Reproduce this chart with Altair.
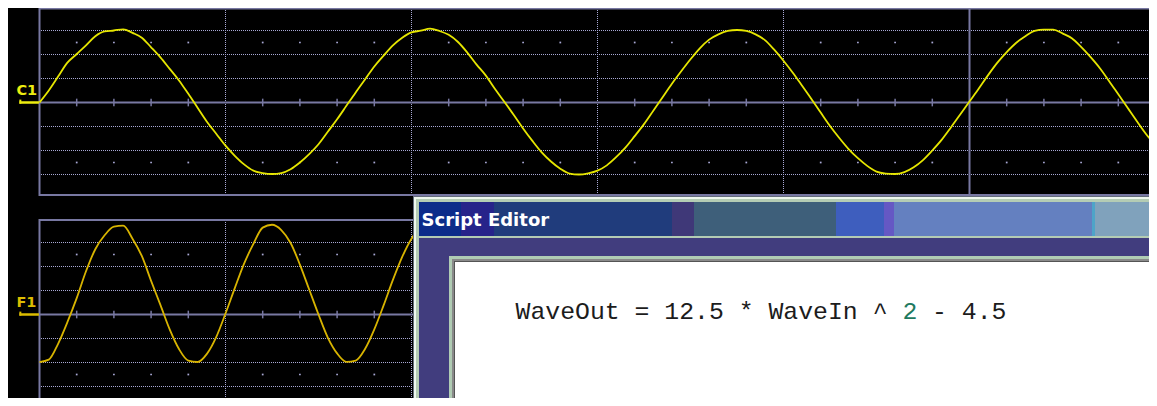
import altair as alt
import pandas as pd

W, H = 1141, 390

# time axis in scope divisions (one sample every 0.05 div)
t = [0.00, 0.05, 0.10, 0.15, 0.20, 0.25, 0.30, 0.35, 0.40, 0.45,
     0.50, 0.55, 0.60, 0.65, 0.70, 0.75, 0.80, 0.85, 0.90, 0.95,
     1.00, 1.05, 1.10, 1.15, 1.20, 1.25, 1.30, 1.35, 1.40, 1.45,
     1.50, 1.55, 1.60, 1.65, 1.70, 1.75, 1.80, 1.85, 1.90, 1.95,
     2.00, 2.05, 2.10, 2.15, 2.20, 2.25, 2.30, 2.35, 2.40, 2.45,
     2.50, 2.55, 2.60, 2.65, 2.70, 2.75, 2.80, 2.85, 2.90, 2.95,
     3.00, 3.05, 3.10, 3.15, 3.20, 3.25, 3.30, 3.35, 3.40, 3.45,
     3.50, 3.55, 3.60, 3.65, 3.70, 3.75, 3.80, 3.85, 3.90, 3.95,
     4.00, 4.05, 4.10, 4.15, 4.20, 4.25, 4.30, 4.35, 4.40, 4.45,
     4.50, 4.55, 4.60, 4.65, 4.70, 4.75, 4.80, 4.85, 4.90, 4.95,
     5.00, 5.05, 5.10, 5.15, 5.20, 5.25, 5.30, 5.35, 5.40, 5.45,
     5.50, 5.55, 5.60, 5.65, 5.70, 5.75, 5.80, 5.85, 5.90, 5.95,
     6.00]

# C1 trace (divisions)
c1 = [0.00, 0.50, 1.08, 1.66, 2.02, 2.38, 2.76, 2.96, 3.00, 3.05,
      2.90, 2.70, 2.30, 1.88, 1.40, 0.92, 0.36, -0.22, -0.80, -1.30,
      -1.80, -2.22, -2.58, -2.84, -2.94, -2.98, -2.94, -2.78, -2.50, -2.15,
      -1.74, -1.22, -0.70, -0.14, 0.42, 0.96, 1.50, 1.95, 2.38, 2.70,
      2.92, 2.99, 3.08, 2.98, 2.82, 2.52, 2.08, 1.58, 1.12, 0.55,
      0.02, -0.52, -1.08, -1.60, -2.08, -2.46, -2.76, -2.96, -3.00, -2.95,
      -2.84, -2.62, -2.28, -1.88, -1.40, -0.90, -0.34, 0.22, 0.78, 1.30,
      1.80, 2.26, 2.62, 2.84, 2.98, 3.02, 2.98, 2.84, 2.60, 2.20,
      1.74, 1.24, 0.70, 0.15, -0.42, -0.98, -1.48, -1.94, -2.32, -2.64,
      -2.88, -2.96, -2.98, -2.90, -2.70, -2.40, -2.00, -1.56, -1.04, -0.50,
      0.04, 0.58, 1.14, 1.66, 2.10, 2.48, 2.76, 2.98, 3.04, 3.04,
      2.88, 2.68, 2.32, 1.90, 1.44, 0.90, 0.34, -0.22, -0.78, -1.32,
      -1.78]

# F1 trace (divisions), visible part left of the editor window
f1 = [-1.98, -1.88, -1.22, -0.32, 0.68, 1.80, 2.72, 3.30, 3.66, 3.70,
      3.16, 2.44, 1.40, 0.40, -0.62, -1.44, -1.92, -1.98, -1.64, -0.94,
      0.04, 1.10, 2.12, 2.94, 3.62, 3.74, 3.52, 2.98, 2.08, 1.04,
      0.00, -0.96, -1.62, -1.97, -1.92, -1.44, -0.62, 0.38, 1.44, 2.40,
      3.16, 3.62, 3.72]

grid_levels = [-3, -2, -1, 1, 2, 3]
div_lines = [1, 2, 3, 4, 6, 7, 8, 9]
center_x = [5]
center_y = [0]
minor_ticks = [0.2, 0.4, 0.6, 0.8, 1.2, 1.4, 1.6, 1.8, 2.2, 2.4, 2.6, 2.8,
               3.2, 3.4, 3.6, 3.8, 4.2, 4.4, 4.6, 4.8, 5.2, 5.4, 5.6, 5.8]
dot_rows = [-2.5, 2.5]

# editor window pieces (screen pixels)
ed_x0 = [413, 414, 416, 419, 461, 494, 672, 694, 836, 884, 894, 1092, 1095, 419, 449, 452, 454, 455]
ed_x1 = [1170, 1170, 1170, 461, 494, 672, 694, 836, 884, 894, 1092, 1095, 1170,
         1170, 1170, 1170, 1170, 1170]
ed_y0 = [196, 197, 199, 202, 202, 202, 202, 202, 202, 202, 202, 202, 202, 238, 256, 259, 261, 262]
ed_y1 = [420, 420, 420, 236, 236, 236, 236, 236, 236, 236, 236, 236, 236, 420, 420, 420, 420, 420]
ed_col = ["#646c7c", "#eef8ee", "#b4ccb4",
          "#0c2c8a", "#27238a", "#203c7c", "#3f3878", "#3e5f7a", "#3e5ebe", "#6558c4",
          "#6480c0", "#4ea4c8", "#80a2bc",
          "#413d7e", "#b0ccb4", "#8a8a8a", "#555555", "#ffffff"]

title_text = ["Script Editor"]
code_parts = ["WaveOut = 12.5 * WaveIn ^", "2", "- 4.5"]
code_cols = ["#1c1c1c", "#1f7a5f", "#1c1c1c"]
code_x = [515.5, 902.4, 932.1]

PXD = 186.0   # pixels per horizontal division
PYD = 24.0    # pixels per vertical division
UP_C = 94.5   # chart-pixel row of the C1 zero line
LO_C = 306.5  # chart-pixel row of the F1 zero line
X_DOM = [-31.5 / PXD, (W - 31.5) / PXD]
UP_DOM = [(UP_C - H) / PYD, UP_C / PYD]
LO_DOM = [(LO_C - H) / PYD, LO_C / PYD]

FRAME = "#7878a2"
DOT = "#a8a8d4"


def xs():
    return alt.Scale(domain=X_DOM, nice=False, zero=False)


def ysc(d):
    return alt.Scale(domain=d, nice=False, zero=False)


def panel(ydom, ybot, ytop, vals, trace_color, label, label_color, label_y):
    L = []
    L.append(alt.Chart(pd.DataFrame({"lvl": grid_levels})).mark_rule(
        color=DOT, strokeWidth=1, strokeDash=[1, 1], strokeDashOffset=0.5,
        strokeCap="butt", clip=True).encode(
        x=alt.X(datum=0, type="quantitative", scale=xs(), axis=None),
        x2=alt.X2(datum=10),
        y=alt.Y("lvl:Q", scale=ysc(ydom), axis=None)))
    L.append(alt.Chart(pd.DataFrame({"d": div_lines})).mark_rule(
        color=DOT, strokeWidth=1, strokeDash=[1, 1], strokeCap="butt", clip=True).encode(
        x=alt.X("d:Q", scale=xs(), axis=None),
        y=alt.Y(datum=ybot, type="quantitative", scale=ysc(ydom), axis=None),
        y2=alt.Y2(datum=ytop)))
    dots = pd.DataFrame([{"x": m, "y": r} for m in minor_ticks for r in dot_rows])
    L.append(alt.Chart(dots).mark_square(color=DOT, size=3, opacity=1, clip=True).encode(
        x=alt.X("x:Q", scale=xs(), axis=None),
        y=alt.Y("y:Q", scale=ysc(ydom), axis=None)))
    L.append(alt.Chart(pd.DataFrame({"c": center_y})).mark_rect(
        fill="black", fillOpacity=0, stroke=FRAME, strokeWidth=2, clip=True).encode(
        x=alt.X(datum=0, type="quantitative", scale=xs(), axis=None),
        x2=alt.X2(datum=10),
        y=alt.Y(datum=ybot, type="quantitative", scale=ysc(ydom), axis=None),
        y2=alt.Y2(datum=ytop)))
    L.append(alt.Chart(pd.DataFrame({"c": center_y})).mark_rule(
        color=FRAME, strokeWidth=2, clip=True).encode(
        x=alt.X(datum=0, type="quantitative", scale=xs(), axis=None),
        x2=alt.X2(datum=10),
        y=alt.Y("c:Q", scale=ysc(ydom), axis=None)))
    L.append(alt.Chart(pd.DataFrame({"c": center_x})).mark_rule(
        color=FRAME, strokeWidth=2, clip=True).encode(
        x=alt.X("c:Q", scale=xs(), axis=None),
        y=alt.Y(datum=ybot, type="quantitative", scale=ysc(ydom), axis=None),
        y2=alt.Y2(datum=ytop)))
    L.append(alt.Chart(pd.DataFrame({"m": minor_ticks})).mark_rule(
        color=FRAME, strokeWidth=1.5, clip=True).encode(
        x=alt.X("m:Q", scale=xs(), axis=None),
        y=alt.Y(datum=-0.16, type="quantitative", scale=ysc(ydom), axis=None),
        y2=alt.Y2(datum=0.16)))
    tr = pd.DataFrame({"t": t[:len(vals)], "v": vals})
    L.append(alt.Chart(tr).mark_line(
        color=trace_color, strokeWidth=1.8, interpolate="monotone", clip=True).encode(
        x=alt.X("t:Q", scale=xs(), axis=None),
        y=alt.Y("v:Q", scale=ysc(ydom), axis=None)))
    # channel marker
    L.append(alt.Chart(pd.DataFrame({"c": center_y})).mark_rule(
        color=label_color, strokeWidth=2.5).encode(
        x=alt.X(datum=-0.108, type="quantitative", scale=xs(), axis=None),
        x2=alt.X2(datum=-0.003),
        y=alt.Y("c:Q", scale=ysc(ydom), axis=None)))
    L.append(alt.Chart(pd.DataFrame({"c": center_y})).mark_rule(
        color=label_color, strokeWidth=2).encode(
        x=alt.X(datum=-0.103, type="quantitative", scale=xs(), axis=None),
        y=alt.Y(datum=-0.05, type="quantitative", scale=ysc(ydom), axis=None),
        y2=alt.Y2(datum=0.12)))
    L.append(alt.Chart(pd.DataFrame({"label": [label]})).mark_text(
        color=label_color, font="DejaVu Sans", fontSize=14.5, fontWeight="bold",
        align="left", baseline="alphabetic").encode(
        x=alt.X(datum=-0.124, type="quantitative", scale=xs(), axis=None),
        y=alt.Y(datum=label_y, type="quantitative", scale=ysc(ydom), axis=None),
        text="label:N"))
    return L


layers = []
layers += panel(UP_DOM, (UP_C - 187) / PYD, (UP_C - 0.5) / PYD, c1,
                "#e6e600", "C1", "#ecec10", 0.32)
layers += panel(LO_DOM, (LO_C - 407) / PYD, (LO_C - 212) / PYD, f1,
                "#d8b400", "F1", "#dcbc00", 0.32)

# editor window
ex = alt.Scale(domain=[8, 8 + W], nice=False, zero=False)
ey = alt.Scale(domain=[8, 8 + H], nice=False, zero=False, reverse=True)
ed = pd.DataFrame({"x0": ed_x0, "x1": ed_x1, "y0": ed_y0, "y1": ed_y1, "c": ed_col,
                   "o": list(range(len(ed_x0)))})
layers.append(alt.Chart(ed).mark_rect(clip=True).encode(
    x=alt.X("x0:Q", scale=ex, axis=None), x2="x1:Q",
    y=alt.Y("y0:Q", scale=ey, axis=None), y2="y1:Q",
    color=alt.Color("c:N", scale=None, legend=None),
    order=alt.Order("o:Q")))
layers.append(alt.Chart(pd.DataFrame({"s": title_text})).mark_text(
    color="white", font="DejaVu Sans", fontSize=18, fontWeight="bold",
    align="left", baseline="alphabetic").encode(
    x=alt.X(datum=421.5, type="quantitative", scale=ex, axis=None),
    y=alt.Y(datum=226, type="quantitative", scale=ey, axis=None),
    text="s:N"))
code = pd.DataFrame({"s": code_parts, "c": code_cols, "x": code_x})
layers.append(alt.Chart(code).mark_text(
    font="Liberation Mono", fontSize=24.8, align="left", baseline="alphabetic").encode(
    x=alt.X("x:Q", scale=ex, axis=None),
    y=alt.Y(datum=318.5, type="quantitative", scale=ey, axis=None),
    text="s:N",
    color=alt.Color("c:N", scale=None, legend=None)))

chart = alt.layer(*layers).resolve_scale(x="independent", y="independent").properties(
    width=W, height=H, background="black", padding=0,
    autosize=alt.AutoSizeParams(type="none"),
).configure_view(stroke=None)

chart.save("out.html", embed_options={"renderer": "svg", "actions": False})
